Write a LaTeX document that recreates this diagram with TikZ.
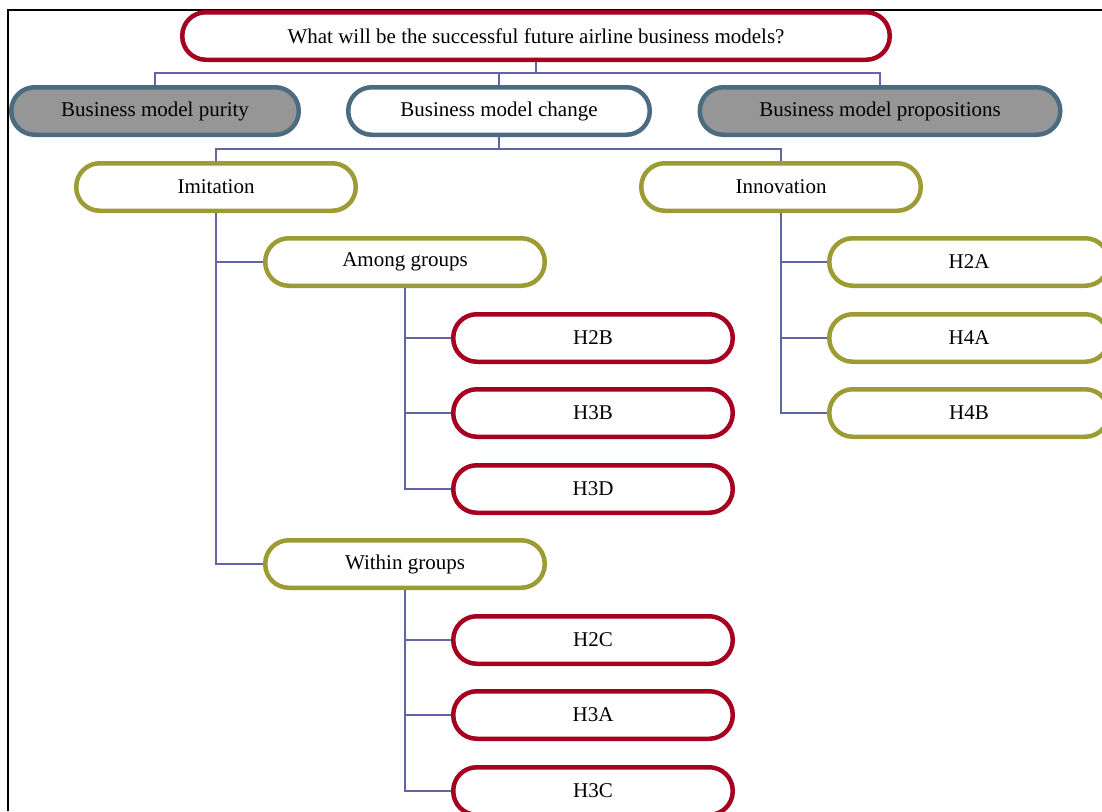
\documentclass[tikz,border=0pt]{standalone}
\usepackage{fontspec}
\setmainfont{Liberation Serif}
\usetikzlibrary{calc}

\definecolor{pillred}{RGB}{166,0,33}
\definecolor{pillolive}{RGB}{156,155,52}
\definecolor{pillsteel}{RGB}{75,108,128}
\definecolor{pillgrey}{RGB}{150,150,150}
\definecolor{linkblue}{RGB}{98,100,166}

\tikzset{
  pill/.style={draw, line width=4.5pt, rounded corners=23.5pt, minimum height=47.5pt,
    minimum width=279.5pt, inner sep=0pt, fill=white, font=\fontsize{21}{24}\selectfont},
  redpill/.style={pill, draw=pillred},
  olivepill/.style={pill, draw=pillolive},
  steelpill/.style={pill, draw=pillsteel},
  greypill/.style={steelpill, fill=pillgrey},
  link/.style={draw=linkblue, line width=1.5pt},
}

\begin{document}
\begin{tikzpicture}[x=1pt,y=-1pt]
\useasboundingbox (0,0) rectangle (1102,811);
% frame
\draw[line width=1.5pt] (8,811) -- (8,10) -- (1102,10);
% question and the three views
\node[redpill, minimum width=707.5pt] (q) at (536,36) {What will be the successful future airline business models?};
\node[greypill, minimum width=287.5pt] (purity) at (155,111) {Business model purity};
\node[steelpill, minimum width=301.5pt] (change) at (499,111) {Business model change};
\node[greypill, minimum width=360.5pt] (props) at (880,111) {Business model propositions};
% change
\node[olivepill] (imit) at (216,187) {Imitation};
\node[olivepill] (innov) at (781,187) {Innovation};
\node[olivepill] (among) at (405,262) {Among groups};
\node[olivepill] (within) at (405,564) {Within groups};
% hypotheses
\node[redpill] (h2b) at (593,338) {H2B};
\node[redpill] (h3b) at (593,413) {H3B};
\node[redpill] (h3d) at (593,489) {H3D};
\node[redpill] (h2c) at (593,640) {H2C};
\node[redpill] (h3a) at (593,715) {H3A};
\node[redpill] (h3c) at (593,791) {H3C};
\node[olivepill] (h2a) at (969,262) {H2A};
\node[olivepill] (h4a) at (969,338) {H4A};
\node[olivepill] (h4b) at (969,413) {H4B};
% links
\coordinate (jq) at (536,73);
\coordinate (jc) at (499,149);
\draw[link] (q.south) -- (jq);
\draw[link] (purity.north) |- (jq) -| (props.north);
\draw[link] (jq -| change.north) -- (change.north);
\draw[link] (change.south) -- (jc);
\draw[link] (imit.north) |- (jc) -| (innov.north);
\draw[link] (imit.south) |- (within.west);
\draw[link] (imit.south |- among.west) -- (among.west);
\draw[link] (among.south) |- (h3d.west);
\foreach \h in {h2b,h3b}
  \draw[link] (among.south |- \h.west) -- (\h.west);
\draw[link] (within.south) |- (h3c.west);
\foreach \h in {h2c,h3a}
  \draw[link] (within.south |- \h.west) -- (\h.west);
\draw[link] (innov.south) |- (h4b.west);
\foreach \h in {h2a,h4a}
  \draw[link] (innov.south |- \h.west) -- (\h.west);
\end{tikzpicture}
\end{document}
